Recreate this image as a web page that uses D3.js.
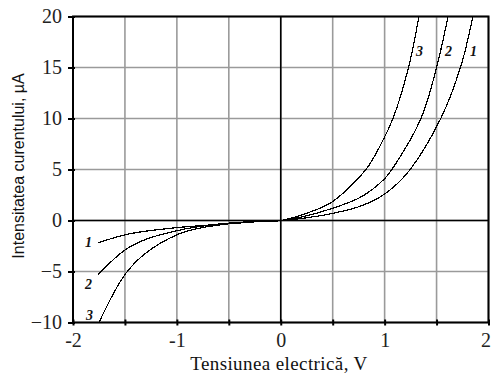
<!DOCTYPE html>
<html>
<head>
<meta charset="utf-8">
<script src="https://cdn.jsdelivr.net/npm/d3@7"></script>
<style>
  html, body { margin: 0; padding: 0; background: #fff; }
  svg { display: block; }
</style>
</head>
<body>
<svg id="chart" width="491" height="377"></svg>
<script>
// Current–voltage characteristics of three samples
const voltage1 = [-1.76, -1.5, -1.3, -1.0, -0.7, -0.4, -0.2, 0, 0.2, 0.5, 0.78, 1.0, 1.23, 1.54, 1.73, 1.85];
const current1 = [-2.2, -1.4, -1.05, -0.7, -0.45, -0.25, -0.1, 0, 0.2, 0.7, 1.45, 2.6, 4.8, 10, 15, 20];

const voltage2 = [-1.76, -1.5, -1.3, -1.0, -0.85, -0.6, -0.3, 0, 0.2, 0.5, 0.78, 1.0, 1.07, 1.35, 1.5, 1.61];
const current2 = [-5.3, -2.9, -1.85, -1.0, -0.7, -0.35, -0.12, 0, 0.35, 1.2, 2.35, 4.1, 5, 10, 15, 20];

const voltage3 = [-1.75, -1.5, -1.3, -1.0, -0.85, -0.6, -0.3, 0, 0.3, 0.5, 0.82, 0.95, 1.08, 1.23, 1.33];
const current3 = [-10, -5.3, -3.2, -1.4, -0.9, -0.45, -0.15, 0, 0.9, 1.86, 5, 7.2, 10, 15, 20];

const curveNames = ["1", "2", "3"];
const xTickLabels = [-2, -1, 0, 1, 2];
const yTickLabels = [-10, -5, 0, 5, 10, 15, 20];
const xGridValues = [-2, -1.5, -1, -0.5, 0, 0.5, 1, 1.5, 2];

const xTitle = "Tensiunea electrică, V";
const yTitle = "Intensitatea curentului, µA";

const svg = d3.select("#chart");
const x = d3.scaleLinear().domain([-2, 2]).range([73, 488.5]);
const y = d3.scaleLinear().domain([-10, 20]).range([322.5, 16.5]);

// Grid
const grid = svg.append("g");
grid.selectAll("line.gx").data(xGridValues).join("line")
  .attr("x1", d => x(d)).attr("x2", d => x(d))
  .attr("y1", y(-10)).attr("y2", y(20))
  .attr("stroke", "#9a9a9a").attr("stroke-width", 1.6);
grid.selectAll("line.gy").data(yTickLabels).join("line")
  .attr("x1", x(-2)).attr("x2", x(2))
  .attr("y1", d => y(d)).attr("y2", d => y(d))
  .attr("stroke", "#9a9a9a").attr("stroke-width", 1.6);

// Zero lines
svg.append("line").attr("x1", x(0)).attr("x2", x(0)).attr("y1", y(-10)).attr("y2", y(20))
  .attr("stroke", "#000").attr("stroke-width", 1.6);
svg.append("line").attr("x1", x(-2)).attr("x2", x(2)).attr("y1", y(0)).attr("y2", y(0))
  .attr("stroke", "#000").attr("stroke-width", 1.6);

// Frame
svg.append("rect").attr("x", x(-2)).attr("y", y(20))
  .attr("width", x(2) - x(-2)).attr("height", y(-10) - y(20))
  .attr("fill", "none").attr("stroke", "#000").attr("stroke-width", 2);

// Axes
const serif = "'Liberation Serif', 'Times New Roman', serif";
const xAxis = d3.axisBottom(x).tickValues(xGridValues).tickSize(3)
  .tickFormat(d => xTickLabels.includes(d) ? String(d) : "");
const gx = svg.append("g").attr("transform", `translate(0,${y(-10)})`).call(xAxis);
gx.select(".domain").remove();
gx.selectAll(".tick line").attr("y1", -3).attr("y2", 3).attr("stroke", "#000").attr("stroke-width", 2);
gx.selectAll(".tick text").attr("y", 10).attr("dy", "0.71em")
  .attr("font-family", serif).attr("font-size", 20).attr("fill", "#222")
  .attr("dx", d => d === 2 ? -3 : 0);

const yAxis = d3.axisLeft(y).tickValues(yTickLabels).tickSize(4).tickPadding(7);
const gy = svg.append("g").attr("transform", `translate(${x(-2)},0)`).call(yAxis);
gy.select(".domain").remove();
gy.selectAll(".tick line").attr("x1", -5).attr("x2", 2).attr("stroke", "#000").attr("stroke-width", 2);
gy.selectAll(".tick text")
  .attr("font-family", serif).attr("font-size", 20).attr("fill", "#222");

// Curves
const series = [
  { name: curveNames[0], v: voltage1, i: current1, dy: 4 },
  { name: curveNames[1], v: voltage2, i: current2, dy: 14 },
  { name: curveNames[2], v: voltage3, i: current3, dy: -3 }
];
const line = d3.line().x(d => x(d[0])).y(d => y(d[1])).curve(d3.curveCatmullRom.alpha(0.5));
svg.append("g").selectAll("path").data(series).join("path")
  .attr("d", s => line(s.v.map((v, k) => [v, s.i[k]])))
  .attr("fill", "none").attr("stroke", "#000").attr("stroke-width", 1.2)
  .attr("shape-rendering", "crispEdges");

// Curve labels: next to the upper ends and the lower-left starts
const labels = svg.append("g").attr("font-family", serif).attr("font-size", 14)
  .attr("font-weight", "bold").attr("font-style", "italic").attr("fill", "#111");
series.forEach(s => {
  const last = s.v.length - 1;
  labels.append("text").attr("x", x(s.v[last]) - 3).attr("y", y(16.1))
    .text(s.name);
  labels.append("text").attr("x", x(s.v[0]) - 13).attr("y", y(s.i[0]) + s.dy)
    .text(s.name);
});

// Axis titles
svg.append("text").attr("x", 279).attr("y", 370).attr("text-anchor", "middle")
  .attr("font-family", serif).attr("font-size", 19).attr("letter-spacing", 0.4).attr("fill", "#111")
  .text(xTitle);
svg.append("text").attr("transform", `translate(24,166) rotate(-90)`).attr("text-anchor", "middle")
  .attr("font-family", "'Liberation Sans', Arial, sans-serif").attr("font-size", 16).attr("fill", "#111")
  .text(yTitle);
</script>
</body>
</html>
